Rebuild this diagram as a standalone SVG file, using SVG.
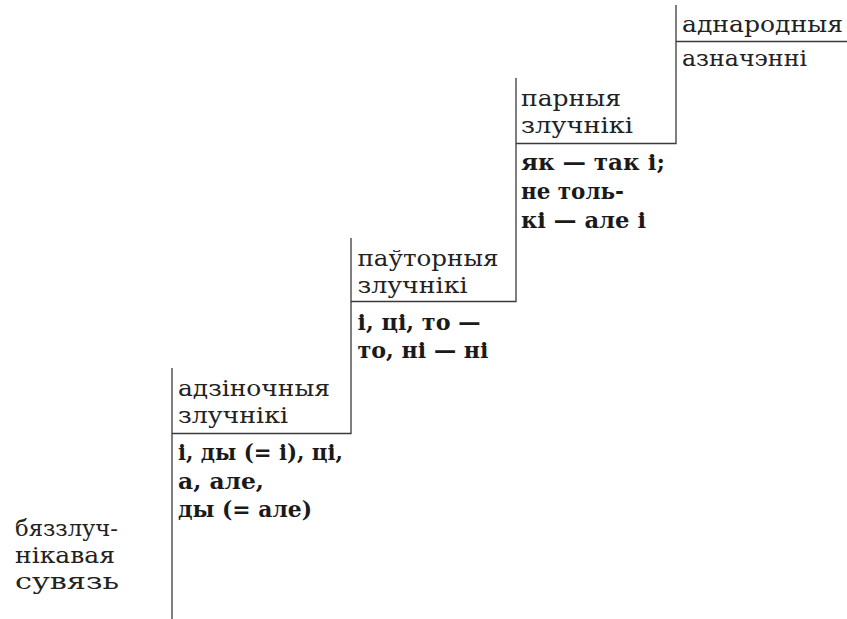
<svg xmlns="http://www.w3.org/2000/svg" width="847" height="619" viewBox="0 0 847 619">
<style>
.t{font-family:"DejaVu Serif","Liberation Serif",serif;font-size:23px;fill:#222}
.b{font-family:"DejaVu Serif","Liberation Serif",serif;font-size:21.5px;font-weight:bold;fill:#1a1a1a}
.ln{fill:none;stroke:#3a3a3a;stroke-width:1.3}
</style>
<rect width="847" height="619" fill="#fff"/>
<g id="connectors">
<path class="ln" d="M172,368 V619"/>
<path class="ln" d="M172,433.5 H351 V238"/>
<path class="ln" d="M351,301.5 H516 V78"/>
<path class="ln" d="M516,143.5 H676 V5"/>
<path class="ln" d="M676,41.5 H847"/>
</g>
<g id="node-bezzluchnikavaya">
<text class="t" x="15" y="536" textLength="103" lengthAdjust="spacingAndGlyphs">бяззлуч-</text>
<text class="t" x="15" y="562.5" textLength="100" lengthAdjust="spacingAndGlyphs">нікавая</text>
<text class="t" x="15" y="588.5" textLength="104" lengthAdjust="spacingAndGlyphs">сувязь</text>
</g>
<g id="node-adzinochnyya">
<text class="t" x="178" y="396" textLength="152" lengthAdjust="spacingAndGlyphs">адзіночныя</text>
<text class="t" x="178" y="423" textLength="110" lengthAdjust="spacingAndGlyphs">злучнікі</text>
<text class="b" x="178" y="459.5" textLength="165" lengthAdjust="spacingAndGlyphs">і, ды (= і), ці,</text>
<text class="b" x="178" y="488.5" textLength="86" lengthAdjust="spacingAndGlyphs">а, але,</text>
<text class="b" x="178" y="517" textLength="134" lengthAdjust="spacingAndGlyphs">ды (= але)</text>
</g>
<g id="node-pautornyya">
<text class="t" x="357.5" y="265.5" textLength="141" lengthAdjust="spacingAndGlyphs">паўторныя</text>
<text class="t" x="357.5" y="292.5" textLength="110" lengthAdjust="spacingAndGlyphs">злучнікі</text>
<text class="b" x="357.5" y="329.5" textLength="123" lengthAdjust="spacingAndGlyphs">і, ці, то —</text>
<text class="b" x="357.5" y="358" textLength="131" lengthAdjust="spacingAndGlyphs">то, ні — ні</text>
</g>
<g id="node-parnyya">
<text class="t" x="521" y="105.5" textLength="100" lengthAdjust="spacingAndGlyphs">парныя</text>
<text class="t" x="521" y="133" textLength="112" lengthAdjust="spacingAndGlyphs">злучнікі</text>
<text class="b" x="521" y="170" textLength="144" lengthAdjust="spacingAndGlyphs">як — так і;</text>
<text class="b" x="521" y="199" textLength="103" lengthAdjust="spacingAndGlyphs">не толь-</text>
<text class="b" x="521" y="227.5" textLength="125" lengthAdjust="spacingAndGlyphs">кі — але і</text>
</g>
<g id="node-adnarodnyya">
<text class="t" x="682" y="31.5" textLength="161" lengthAdjust="spacingAndGlyphs">аднародныя</text>
<text class="t" x="682" y="66" textLength="125" lengthAdjust="spacingAndGlyphs">азначэнні</text>
</g>
</svg>
